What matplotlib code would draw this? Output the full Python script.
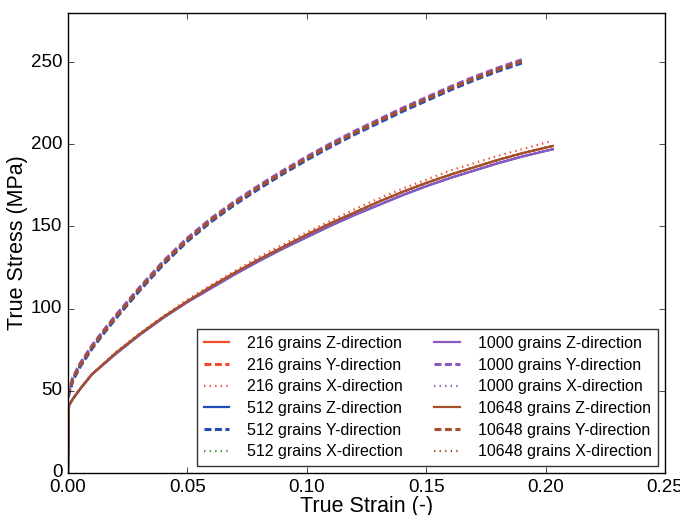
import numpy as np
import matplotlib
matplotlib.use("Agg")
import matplotlib.pyplot as plt

# strain / stress
strain_lo = [0.0, 0.0004, 0.002, 0.005, 0.01, 0.02, 0.03, 0.04, 0.05, 0.06, 0.07, 0.08,
             0.09, 0.10, 0.11, 0.12, 0.13, 0.14, 0.15, 0.16, 0.17, 0.18, 0.19, 0.20, 0.203]
stress_lo_mid = [0, 41, 45, 51, 60, 73, 84.5, 95, 104.5, 113.5, 122, 130,
                 137.5, 145, 152, 158.5, 165, 171, 176.5, 181.5, 186, 190.5, 194.5, 198, 199]
stress_lo_high = [0, 41, 45, 51, 60, 73.5, 85, 95.5, 105.5, 114.5, 123, 131.5,
                  139, 146.5, 153.5, 160.5, 167, 173, 178.5, 184, 188.5, 193, 197, 201, 202]
stress_lo_low = [0, 41, 45, 51, 60, 72.5, 84, 94.5, 104, 112.5, 121, 129,
                 136.5, 143.5, 150.5, 157, 163, 169, 174.5, 179.5, 184, 188.5, 192.5, 196, 197]

strain_up = [0.0, 0.002, 0.005, 0.01, 0.015, 0.02, 0.03, 0.04, 0.05, 0.06, 0.07, 0.08,
             0.09, 0.10, 0.11, 0.12, 0.13, 0.14, 0.15, 0.16, 0.17, 0.18, 0.19]
stress_up = [47, 57, 65.5, 76.5, 86, 95, 112, 128, 142, 154, 164.5, 174,
             183, 191.5, 199.5, 207, 214, 221, 227.5, 234, 240, 245.5, 250.5]
stress_up_low = [46, 56, 64.5, 75.5, 85, 94, 111, 127, 141, 153, 163.5, 173,
                 182, 190.5, 198.5, 206, 213, 220, 226.5, 233, 239, 244.5, 249.5]
stress_up_high = [48, 58, 66.5, 77.5, 87, 96, 113, 129, 143, 155, 165.5, 175,
                  184, 192.5, 200.5, 208, 215, 222, 228.5, 235, 241, 246.5, 251.5]

colors = {"216": "#EE4B2B", "512": "#1F4FB5", "1000": "#8B59C0", "10648": "#A5502A"}
x_color_512 = "#3A9A3A"

# (label, x, y, color, style)
series = [
    ("216 grains Z-direction", strain_lo, stress_lo_mid, colors["216"], "-"),
    ("216 grains Y-direction", strain_up, stress_up, colors["216"], "--"),
    ("216 grains X-direction", strain_lo, stress_lo_high, colors["216"], ":"),
    ("512 grains Z-direction", strain_lo, stress_lo_low, colors["512"], "-"),
    ("512 grains Y-direction", strain_up, stress_up_low, colors["512"], "--"),
    ("512 grains X-direction", strain_lo, stress_lo_mid, x_color_512, ":"),
    ("1000 grains Z-direction", strain_lo, stress_lo_low, colors["1000"], "-"),
    ("1000 grains Y-direction", strain_up, stress_up_high, colors["1000"], "--"),
    ("1000 grains X-direction", strain_lo, stress_lo_mid, colors["1000"], ":"),
    ("10648 grains Z-direction", strain_lo, stress_lo_mid, colors["10648"], "-"),
    ("10648 grains Y-direction", strain_up, stress_up, colors["10648"], "--"),
    ("10648 grains X-direction", strain_lo, stress_lo_mid, colors["10648"], ":"),
]

plt.style.use("classic")
plt.rcParams["font.family"] = ["Liberation Sans", "DejaVu Sans"]

fig = plt.figure(figsize=(6.8, 5.15), dpi=100, facecolor="white")
ax = fig.add_axes([0.1, 0.0816, 0.878, 0.8934])

for label, xs, ys, c, ls in series:
    if ls == "--":
        ax.plot(xs, ys, color=c, linestyle=ls, dashes=(5, 2.5), linewidth=2.2, label=label)
    else:
        ax.plot(xs, ys, color=c, linestyle=ls, linewidth=1.6, label=label)

ax.set_xlim(0, 0.25)
ax.set_ylim(0, 280)
ax.set_xticks([0, 0.05, 0.10, 0.15, 0.20, 0.25])
ax.set_xticklabels(["0.00", "0.05", "0.10", "0.15", "0.20", "0.25"])
ax.set_yticks([0, 50, 100, 150, 200, 250])
ax.tick_params(labelsize=13.5)
ax.set_xlabel("True Strain (-)", fontsize=15.5, labelpad=0)
ax.set_ylabel("True Stress (MPa)", fontsize=15.5, labelpad=2)

leg = ax.legend(loc="lower right", ncol=2, fontsize=11.5, frameon=True, fancybox=False,
                labelspacing=0.42, handlelength=1.6, handletextpad=1.1,
                columnspacing=2.0, borderaxespad=0.45, numpoints=1)
leg.get_frame().set_edgecolor("#333333")

fig.savefig("out.png", dpi=100, facecolor="white")
